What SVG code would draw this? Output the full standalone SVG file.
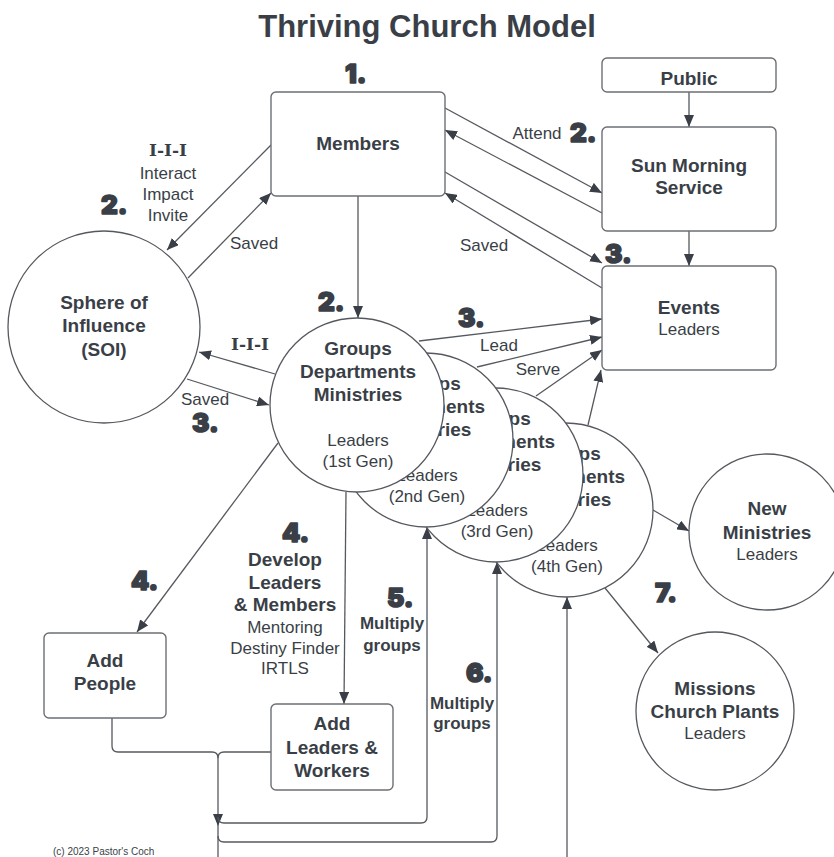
<svg xmlns="http://www.w3.org/2000/svg" width="834" height="857" viewBox="0 0 834 857">
  <defs>
    <marker id="arrow" viewBox="0 0 12 10" refX="12" refY="5" markerWidth="12" markerHeight="10" markerUnits="userSpaceOnUse" orient="auto">
      <path d="M0,0 L12,5 L0,10 Z" fill="#3a3f47"/>
    </marker>
    <style>
      .box { fill: #ffffff; stroke: #6b6f75; stroke-width: 1.4; }
      .circ { fill: #ffffff; stroke: #55595f; stroke-width: 1.3; }
      .line { fill: none; stroke: #55595f; stroke-width: 1.3; }
      .arr { fill: none; stroke: #55595f; stroke-width: 1.3; marker-end: url(#arrow); }
      .t { font-family: "Liberation Sans", Arial, sans-serif; fill: #3a3f47; text-anchor: middle; }
      .b { font-weight: bold; font-size: 19px; }
      .bs { font-weight: bold; font-size: 17px; }
      .r { font-size: 17px; }
      .num { font-family: "Inter", "Lato", "Liberation Sans", sans-serif; font-weight: 900; font-size: 26px; fill: #3a3f47; stroke: #3a3f47; stroke-width: 1.6; stroke-linejoin: round; }
      .iii { font-family: "DejaVu Serif", "Liberation Serif", serif; font-weight: bold; font-size: 17px; fill: #3a3f47; text-anchor: middle; }
    </style>
  </defs>

  <rect width="834" height="857" fill="#ffffff"/>

  <text class="t" x="427" y="37" style="font-weight:bold;font-size:31px">Thriving Church Model</text>

  <!-- connectors -->
  <g id="connectors">
    <!-- Members / SOI -->
    <line class="arr" x1="271" y1="145" x2="167" y2="250"/>
    <line class="arr" x1="188" y1="278" x2="271" y2="193"/>
    <!-- Members / Sun Morning / Events -->
    <line class="arr" x1="445" y1="108" x2="602" y2="193"/>
    <line class="arr" x1="602" y1="213" x2="445" y2="130"/>
    <line class="arr" x1="445" y1="172" x2="602" y2="263"/>
    <line class="arr" x1="602" y1="288" x2="445" y2="193"/>
    <line class="arr" x1="689" y1="92" x2="689" y2="127"/>
    <line class="arr" x1="689" y1="231" x2="689" y2="266"/>
    <!-- Members to Groups -->
    <line class="arr" x1="358" y1="196" x2="358" y2="318"/>
    <!-- Groups / SOI -->
    <line class="arr" x1="275" y1="374" x2="199" y2="352"/>
    <line class="arr" x1="187" y1="379" x2="269" y2="405"/>
    <!-- Groups to Events -->
    <line class="arr" x1="419" y1="341" x2="602" y2="319"/>
    <line class="arr" x1="477" y1="367" x2="602" y2="337"/>
    <line class="arr" x1="536" y1="396" x2="602" y2="350"/>
    <line class="arr" x1="588" y1="425" x2="601" y2="370"/>
    <!-- Groups to Add People / Add Leaders -->
    <line class="arr" x1="278" y1="443" x2="137" y2="632"/>
    <line class="arr" x1="346" y1="492" x2="344" y2="704"/>
    <!-- 4th Gen to New Ministries / Missions -->
    <line class="arr" x1="653" y1="510" x2="689" y2="531"/>
    <line class="arr" x1="605" y1="588" x2="658" y2="653"/>
    <!-- merge of Add People and Add Leaders -->
    <path class="line" d="M112,718 L112,746 Q112,752 118,752 L212,752 Q218,752 218,758"/>
    <path class="line" d="M271,752 L224,752 Q218,752 218,758"/>
    <line class="arr" x1="218" y1="758" x2="218" y2="826"/>
    <line class="line" x1="218" y1="826" x2="218" y2="857"/>
    <!-- multiply loops back to the generations -->
    <path class="arr" d="M218,817 Q218,823 224,823 L421,823 Q427,823 427,817 L427,527"/>
    <path class="arr" d="M218,836 Q218,842 224,842 L491,842 Q497,842 497,836 L497,562"/>
    <line class="arr" x1="567" y1="857" x2="567" y2="597"/>
  </g>

  <!-- connector labels -->
  <g id="labels">
    <text class="iii" x="168" y="156">I-I-I</text>
    <text class="t r" x="168" y="179">Interact</text>
    <text class="t r" x="168" y="200">Impact</text>
    <text class="t r" x="168" y="221">Invite</text>
    <text class="num" x="101" y="214">2.</text>
    <text class="t r" x="254" y="249">Saved</text>
    <text class="t r" x="537" y="139">Attend</text>
    <text class="num" x="570" y="142">2.</text>
    <text class="t r" x="484" y="251">Saved</text>
    <text class="num" x="605" y="263">3.</text>
    <text class="num" x="345" y="83">1.</text>
    <text class="num" x="318" y="311">2.</text>
    <text class="num" x="458" y="327">3.</text>
    <text class="t r" x="499" y="351">Lead</text>
    <text class="t r" x="538" y="375">Serve</text>
    <text class="iii" x="250" y="350">I-I-I</text>
    <text class="t r" x="205" y="405">Saved</text>
    <text class="num" x="192" y="432">3.</text>
    <text class="num" x="131" y="590">4.</text>
    <text class="num" x="282" y="542">4.</text>
    <text class="t b" x="285" y="566">Develop</text>
    <text class="t b" x="285" y="589">Leaders</text>
    <text class="t b" x="285" y="611">&amp; Members</text>
    <text class="t r" x="285" y="633">Mentoring</text>
    <text class="t r" x="285" y="654">Destiny Finder</text>
    <text class="t r" x="285" y="674">IRTLS</text>
    <text class="num" x="387" y="607">5.</text>
    <text class="t bs" x="392" y="629">Multiply</text>
    <text class="t bs" x="392" y="651">groups</text>
    <text class="num" x="466" y="682">6.</text>
    <text class="t bs" x="462" y="709">Multiply</text>
    <text class="t bs" x="462" y="729">groups</text>
    <text class="num" x="655" y="602">7.</text>
  </g>

  <g id="members">
    <rect class="box" x="271" y="92" width="174" height="104" rx="5"/>
    <text class="t b" x="358" y="150">Members</text>
  </g>

  <g id="public">
    <rect class="box" x="602" y="58" width="174" height="34" rx="5"/>
    <text class="t b" x="689" y="85">Public</text>
  </g>

  <g id="sun-morning-service">
    <rect class="box" x="602" y="127" width="174" height="104" rx="5"/>
    <text class="t b" x="689" y="172">Sun Morning</text>
    <text class="t b" x="689" y="194">Service</text>
  </g>

  <g id="events">
    <rect class="box" x="602" y="266" width="174" height="104" rx="5"/>
    <text class="t b" x="689" y="314">Events</text>
    <text class="t r" x="689" y="335">Leaders</text>
  </g>

  <g id="soi">
    <circle class="circ" cx="104" cy="327" r="96"/>
    <text class="t b" x="104" y="309">Sphere of</text>
    <text class="t b" x="104" y="332">Influence</text>
    <text class="t b" x="104" y="356">(SOI)</text>
  </g>

  <!-- generations, drawn back to front -->
  <g id="groups-4th-gen">
    <circle class="circ" cx="566" cy="510" r="87"/>
    <text class="t b" x="567" y="460">Groups</text>
    <text class="t b" x="567" y="483">Departments</text>
    <text class="t b" x="567" y="506">Ministries</text>
    <text class="t r" x="567" y="551">Leaders</text>
    <text class="t r" x="567" y="572">(4th Gen)</text>
  </g>

  <g id="groups-3rd-gen">
    <circle class="circ" cx="496" cy="475" r="87"/>
    <text class="t b" x="497" y="425">Groups</text>
    <text class="t b" x="497" y="448">Departments</text>
    <text class="t b" x="497" y="471">Ministries</text>
    <text class="t r" x="497" y="516">Leaders</text>
    <text class="t r" x="497" y="537">(3rd Gen)</text>
  </g>

  <g id="groups-2nd-gen">
    <circle class="circ" cx="426" cy="440" r="87"/>
    <text class="t b" x="427" y="390">Groups</text>
    <text class="t b" x="427" y="413">Departments</text>
    <text class="t b" x="427" y="436">Ministries</text>
    <text class="t r" x="427" y="481">Leaders</text>
    <text class="t r" x="427" y="502">(2nd Gen)</text>
  </g>

  <g id="groups-1st-gen">
    <circle class="circ" cx="357" cy="405" r="87"/>
    <text class="t b" x="358" y="355">Groups</text>
    <text class="t b" x="358" y="378">Departments</text>
    <text class="t b" x="358" y="401">Ministries</text>
    <text class="t r" x="358" y="446">Leaders</text>
    <text class="t r" x="358" y="467">(1st Gen)</text>
  </g>

  <g id="new-ministries">
    <circle class="circ" cx="767" cy="532" r="78"/>
    <text class="t b" x="767" y="515">New</text>
    <text class="t b" x="767" y="539">Ministries</text>
    <text class="t r" x="767" y="560">Leaders</text>
  </g>

  <g id="missions">
    <circle class="circ" cx="715" cy="711" r="79"/>
    <text class="t b" x="715" y="695">Missions</text>
    <text class="t b" x="715" y="718">Church Plants</text>
    <text class="t r" x="715" y="739">Leaders</text>
  </g>

  <g id="add-people">
    <rect class="box" x="44" y="633" width="122" height="85" rx="5"/>
    <text class="t b" x="105" y="667">Add</text>
    <text class="t b" x="105" y="690">People</text>
  </g>

  <g id="add-leaders-workers">
    <rect class="box" x="271" y="704" width="122" height="86" rx="5"/>
    <text class="t b" x="332" y="730">Add</text>
    <text class="t b" x="332" y="754">Leaders &amp;</text>
    <text class="t b" x="332" y="777">Workers</text>
  </g>

  <text x="53" y="855" style="font-family:'Liberation Sans',Arial,sans-serif;font-size:10px;fill:#3a3f47">(c) 2023 Pastor's Coch</text>
</svg>
